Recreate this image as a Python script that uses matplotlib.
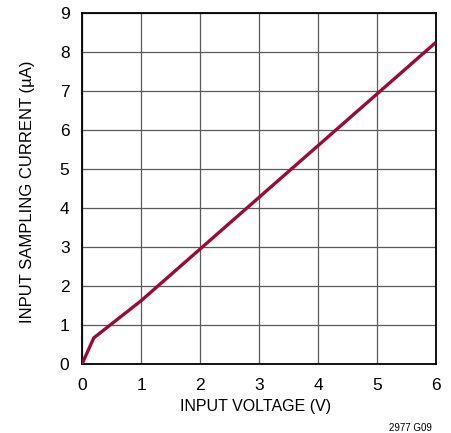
import matplotlib
matplotlib.use("Agg")
import matplotlib.pyplot as plt

plt.rcParams['font.family'] = ['Liberation Sans', 'DejaVu Sans']

input_voltage = [0.0, 0.2, 1.0, 6.0]
sampling_current = [0.0, 0.67, 1.62, 8.25]
xticks = [0, 1, 2, 3, 4, 5, 6]
yticks = [0, 1, 2, 3, 4, 5, 6, 7, 8, 9]

fig = plt.figure(figsize=(4.51, 4.33), dpi=100)
ax = fig.add_axes([82/451, 1-364/433, (436-82)/451, (364-13)/433])
ax.plot(input_voltage, sampling_current, color='#9b0a3a', lw=2.4,
        solid_capstyle='butt', solid_joinstyle='miter', zorder=3)
ax.set_xlim(0, 6)
ax.set_ylim(0, 9)
ax.set_xticks(xticks)
ax.set_yticks(yticks)
ax.grid(True, color='#5a5a5a', lw=0.9)
ax.tick_params(length=0, labelsize=12.5)
ax.tick_params(axis='x', pad=10)
ax.tick_params(axis='y', pad=9)
for s in ax.spines.values():
    s.set_linewidth(1.3)
    s.set_color('black')
ax.set_xlabel('INPUT VOLTAGE (V)', fontsize=11.5)
ax.xaxis.set_label_coords(0.49, -0.1)
ax.set_ylabel('INPUT SAMPLING CURRENT (µA)', fontsize=12)
ax.yaxis.set_label_coords(-0.132, 0.49)
fig.text(432/451, 1-428/433, '2977 G09', fontsize=7, ha='right', va='center')
fig.savefig('out.png', dpi=100)
